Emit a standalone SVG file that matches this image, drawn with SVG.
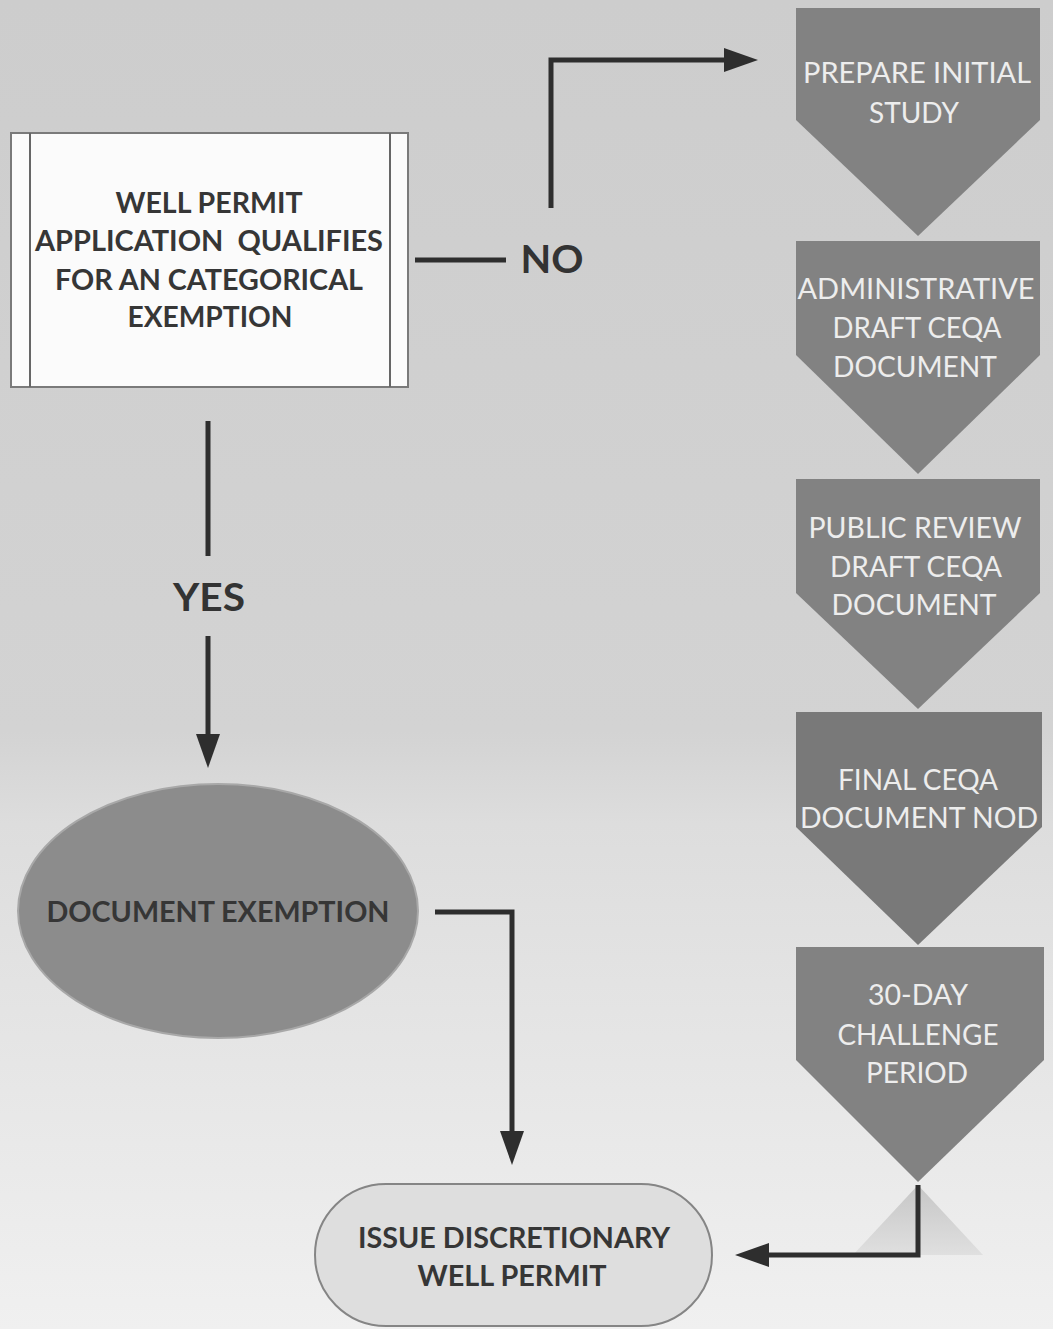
<svg xmlns="http://www.w3.org/2000/svg" width="1053" height="1329" viewBox="0 0 1053 1329">
  <defs>
    <linearGradient id="bg" x1="0" y1="0" x2="0" y2="1">
      <stop offset="0" stop-color="#cdcdcd"/>
      <stop offset="0.55" stop-color="#d3d3d3"/>
      <stop offset="0.62" stop-color="#dddddd"/>
      <stop offset="1" stop-color="#f0f0f0"/>
    </linearGradient>
    <linearGradient id="fade" x1="0" y1="0" x2="0" y2="1">
      <stop offset="0" stop-color="#bdbdbd"/>
      <stop offset="1" stop-color="#dcdcdc"/>
    </linearGradient>
    <marker id="arrow" markerUnits="userSpaceOnUse" markerWidth="34" markerHeight="24" refX="0" refY="12" orient="auto">
      <path d="M0,0 L34,12 L0,24 Z" fill="#2e2e2e"/>
    </marker>
    <style>
      .conn { fill: none; stroke: #2e2e2e; stroke-width: 5; }
      .chev { fill: #828282; }
      .chevtxt { font-family: Lato, "Open Sans", "Liberation Sans", sans-serif; font-size: 28px; fill: #ededed; text-anchor: middle; }
      .bold { font-family: Lato, "Open Sans", "Liberation Sans", sans-serif; font-weight: bold; fill: #363636; text-anchor: middle; }
      .lbl { font-family: Lato, "Liberation Sans", sans-serif; font-weight: bold; font-size: 38px; fill: #333333; text-anchor: middle; }
    </style>
  </defs>
  <rect x="0" y="0" width="1053" height="1329" fill="url(#bg)"/>
  <path d="M918,1185 L853,1255 L983,1255 Z" fill="url(#fade)" opacity="0.8"/>

  <g id="node-qualifies">
    <rect x="11" y="133" width="397" height="254" fill="#fbfbfb" stroke="#7a7a7a" stroke-width="2"/>
    <line x1="30" y1="133" x2="30" y2="387" stroke="#666" stroke-width="2"/>
    <line x1="390" y1="133" x2="390" y2="387" stroke="#666" stroke-width="2"/>
    <text class="bold" font-size="29" x="209" y="213" textLength="187" lengthAdjust="spacingAndGlyphs">WELL PERMIT</text>
    <text class="bold" font-size="29" x="209" y="251" textLength="348" lengthAdjust="spacingAndGlyphs">APPLICATION&#160; QUALIFIES</text>
    <text class="bold" font-size="29" x="209" y="290" textLength="308" lengthAdjust="spacingAndGlyphs">FOR AN CATEGORICAL</text>
    <text class="bold" font-size="29" x="210" y="327" textLength="165" lengthAdjust="spacingAndGlyphs">EXEMPTION</text>
  </g>

  <g id="node-initial-study">
    <path class="chev" d="M796,8 L1040,8 L1040,120 L918,236 L796,120 Z"/>
    <text class="chevtxt" x="917" y="83" textLength="228" lengthAdjust="spacingAndGlyphs">PREPARE INITIAL</text>
    <text class="chevtxt" x="914" y="123" textLength="90" lengthAdjust="spacingAndGlyphs">STUDY</text>
  </g>
  <g id="node-admin-draft">
    <path class="chev" d="M796,241 L1040,241 L1040,355 L918,474 L796,355 Z"/>
    <text class="chevtxt" x="916" y="299" textLength="237" lengthAdjust="spacingAndGlyphs">ADMINISTRATIVE</text>
    <text class="chevtxt" x="917" y="338" textLength="169" lengthAdjust="spacingAndGlyphs">DRAFT CEQA</text>
    <text class="chevtxt" x="915" y="377" textLength="164" lengthAdjust="spacingAndGlyphs">DOCUMENT</text>
  </g>
  <g id="node-public-review">
    <path class="chev" d="M796,479 L1040,479 L1040,593 L918,709 L796,593 Z"/>
    <text class="chevtxt" x="915" y="538" textLength="213" lengthAdjust="spacingAndGlyphs">PUBLIC REVIEW</text>
    <text class="chevtxt" x="916" y="577" textLength="172" lengthAdjust="spacingAndGlyphs">DRAFT CEQA</text>
    <text class="chevtxt" x="914" y="615" textLength="165" lengthAdjust="spacingAndGlyphs">DOCUMENT</text>
  </g>
  <g id="node-final">
    <path class="chev" d="M796,712 L1042,712 L1042,827 L918,945 L796,827 Z" style="fill:#797979"/>
    <text class="chevtxt" x="918" y="790" textLength="160" lengthAdjust="spacingAndGlyphs">FINAL CEQA</text>
    <text class="chevtxt" x="919" y="828" textLength="238" lengthAdjust="spacingAndGlyphs">DOCUMENT NOD</text>
  </g>
  <g id="node-challenge">
    <path class="chev" d="M796,947 L1044,947 L1044,1060 L918,1182 L796,1060 Z"/>
    <text class="chevtxt" x="918" y="1005" textLength="100" lengthAdjust="spacingAndGlyphs">30-DAY</text>
    <text class="chevtxt" x="918" y="1045" textLength="161" lengthAdjust="spacingAndGlyphs">CHALLENGE</text>
    <text class="chevtxt" x="917" y="1083" textLength="102" lengthAdjust="spacingAndGlyphs">PERIOD</text>
  </g>

  <g id="node-document-exemption">
    <ellipse cx="218" cy="911" rx="200" ry="127" fill="#8c8c8c" stroke="#a8a8a8" stroke-width="2"/>
    <text class="bold" font-size="28" x="218" y="922" textLength="343" lengthAdjust="spacingAndGlyphs">DOCUMENT EXEMPTION</text>
  </g>

  <g id="node-issue-permit">
    <rect x="315" y="1184" width="397" height="142" rx="71" ry="71" fill="#dedede" stroke="#858585" stroke-width="2"/>
    <text class="bold" font-size="28" x="514" y="1248" textLength="312" lengthAdjust="spacingAndGlyphs">ISSUE DISCRETIONARY</text>
    <text class="bold" font-size="28" x="512" y="1286" textLength="189" lengthAdjust="spacingAndGlyphs">WELL PERMIT</text>
  </g>

  <g id="connectors">
    <path class="conn" d="M415,260 L506,260"/>
    <path class="conn" d="M551,208 L551,60 L724,60" marker-end="url(#arrow)"/>
    <path class="conn" d="M208,421 L208,556"/>
    <path class="conn" d="M208,636 L208,734" marker-end="url(#arrow)"/>
    <path class="conn" d="M435,912 L512,912 L512,1131" marker-end="url(#arrow)"/>
    <path class="conn" d="M918,1185 L918,1255 L769,1255" marker-end="url(#arrow)"/>
    <text class="lbl" x="552" y="273" textLength="63" lengthAdjust="spacingAndGlyphs">NO</text>
    <text class="lbl" x="209" y="611" textLength="72" lengthAdjust="spacingAndGlyphs">YES</text>
  </g>
</svg>
